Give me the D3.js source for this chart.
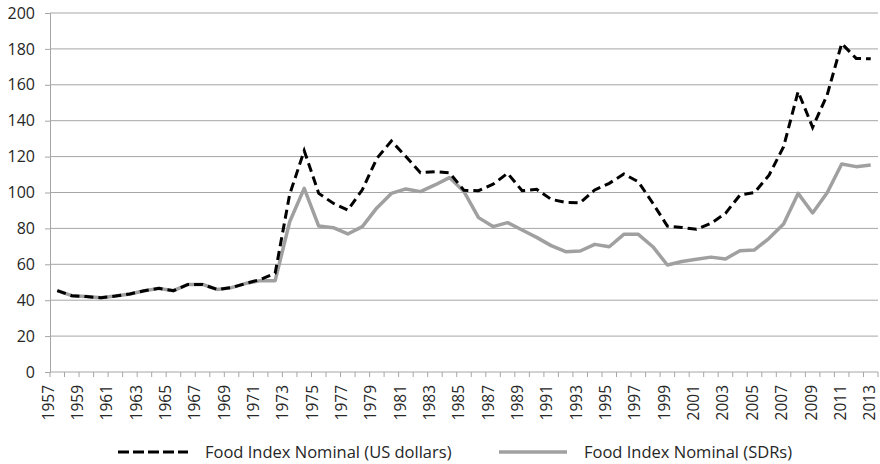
<!DOCTYPE html>
<html>
<head>
<meta charset="utf-8">
<script src="https://cdn.jsdelivr.net/npm/d3@7"></script>
<style>
  html, body { margin: 0; padding: 0; background: #fff; }
  svg { display: block; }
  text { font-family: "Open Sans", "DejaVu Sans", sans-serif; fill: #262626; }
</style>
</head>
<body>
<svg id="chart" width="880" height="464"></svg>
<script>
const years = d3.range(1957, 2014);
const usdValues = [45.3, 42.5, 42, 41.4, 42.3, 43.5, 45.3, 46.6, 45.3, 48.8,
  48.8, 46, 47, 49.4, 51.6, 55, 99, 123.3, 99.5, 94,
  90.2, 101.5, 119, 128.7, 120, 111, 111.6, 111, 101.2, 101,
  104.6, 110.7, 101, 101.8, 96.2, 94.5, 94.3, 101.4, 105.1, 110.3,
  106, 94, 81.3, 80.5, 79.5, 82.8, 88.4, 98.6, 100, 109.7,
  125.5, 156.2, 136.3, 154.3, 183, 174.7, 174.5];
const sdrValues = [45.3, 42.5, 42, 41.4, 42.3, 43.5, 45.3, 46.6, 45.3, 48.8,
  48.8, 46, 47, 49.4, 50.9, 50.9, 83.7, 102.3, 81.3, 80.4,
  76.9, 81, 91.4, 99.5, 102, 100.5, 104.2, 108.3, 100.5, 86,
  81, 83.2, 79.1, 75, 70.4, 67, 67.4, 71.1, 69.8, 76.7,
  76.7, 69.8, 59.6, 61.6, 62.8, 64, 63, 67.6, 68, 74.5,
  82.5, 99.5, 88.6, 99.9, 115.9, 114.4, 115.3];
const yTicks = [0, 20, 40, 60, 80, 100, 120, 140, 160, 180, 200];
const xTickLabels = years.filter((y, i) => i % 2 === 0);
const seriesNames = ["Food Index Nominal (US dollars)", "Food Index Nominal (SDRs)"];

const svg = d3.select("#chart");
const m = { left: 50, right: 2, top: 13, bottom: 92 };
const W = 880, H = 464;

const x = d3.scaleBand().domain(years).range([m.left, W - m.right]).padding(0);
const y = d3.scaleLinear().domain([0, 200]).range([H - m.bottom, m.top]);
const cx = yr => x(yr) + x.bandwidth() / 2;
// category labels are spread slightly wider than the data points in the reference
const labelX = d3.scaleLinear().domain([years[0], years[years.length - 1]])
  .range([m.left - 2, cx(years[years.length - 1]) - 1]);

// gridlines
svg.append("g").selectAll("line").data(yTicks.filter(t => t > 0)).join("line")
  .attr("x1", m.left).attr("x2", W - m.right)
  .attr("y1", d => y(d)).attr("y2", d => y(d))
  .attr("stroke", "#a6a6a6").attr("stroke-width", 1);

// y axis
const yAxis = svg.append("g").attr("transform", `translate(${m.left},0)`)
  .call(d3.axisLeft(y).tickValues(yTicks).tickSize(5).tickPadding(10));
yAxis.select(".domain").attr("stroke", "#a6a6a6");
yAxis.selectAll(".tick line").attr("stroke", "#a6a6a6");
yAxis.selectAll(".tick text").style("font-size", "16px").attr("fill", "#262626")
  .style("font-family", '"Open Sans", sans-serif');

// x axis line
svg.append("line").attr("x1", m.left).attr("x2", W - m.right)
  .attr("y1", y(0)).attr("y2", y(0)).attr("stroke", "#a6a6a6");
// x tick marks at category boundaries
const boundaries = years.map(yr => x(yr)).concat([x(years[years.length - 1]) + x.bandwidth()]);
svg.append("g").selectAll("line").data(boundaries).join("line")
  .attr("x1", d => d).attr("x2", d => d)
  .attr("y1", y(0)).attr("y2", y(0) + 5)
  .attr("stroke", "#a6a6a6");
// x labels
svg.append("g").selectAll("text").data(xTickLabels).join("text")
  .attr("transform", d => `translate(${labelX(d) + 5.5},${y(0) + 13}) rotate(-90)`)
  .attr("text-anchor", "end")
  .style("font-size", "15.5px")
  .text(d => d);

// lines
const line = d3.line().x((d, i) => cx(years[i])).y(d => y(d));
svg.append("path").datum(sdrValues).attr("d", line)
  .attr("fill", "none").attr("stroke", "#a0a0a0").attr("stroke-width", 3.5)
  .attr("stroke-linejoin", "round");
svg.append("path").datum(usdValues).attr("d", line)
  .attr("fill", "none").attr("stroke", "#000").attr("stroke-width", 3)
  .attr("stroke-dasharray", "9,5");

// legend
const lg = svg.append("g");
const ly = 452;
lg.append("line").attr("x1", 118).attr("x2", 188).attr("y1", ly).attr("y2", ly)
  .attr("stroke", "#000").attr("stroke-width", 3).attr("stroke-dasharray", "11,4");
lg.append("text").attr("x", 205).attr("y", ly).attr("dy", "0.35em")
  .style("font-size", "16.5px").text(seriesNames[0]);
lg.append("line").attr("x1", 499).attr("x2", 567).attr("y1", ly).attr("y2", ly)
  .attr("stroke", "#a0a0a0").attr("stroke-width", 3.5);
lg.append("text").attr("x", 584).attr("y", ly).attr("dy", "0.35em")
  .style("font-size", "16.5px").text(seriesNames[1]);
</script>
</body>
</html>
